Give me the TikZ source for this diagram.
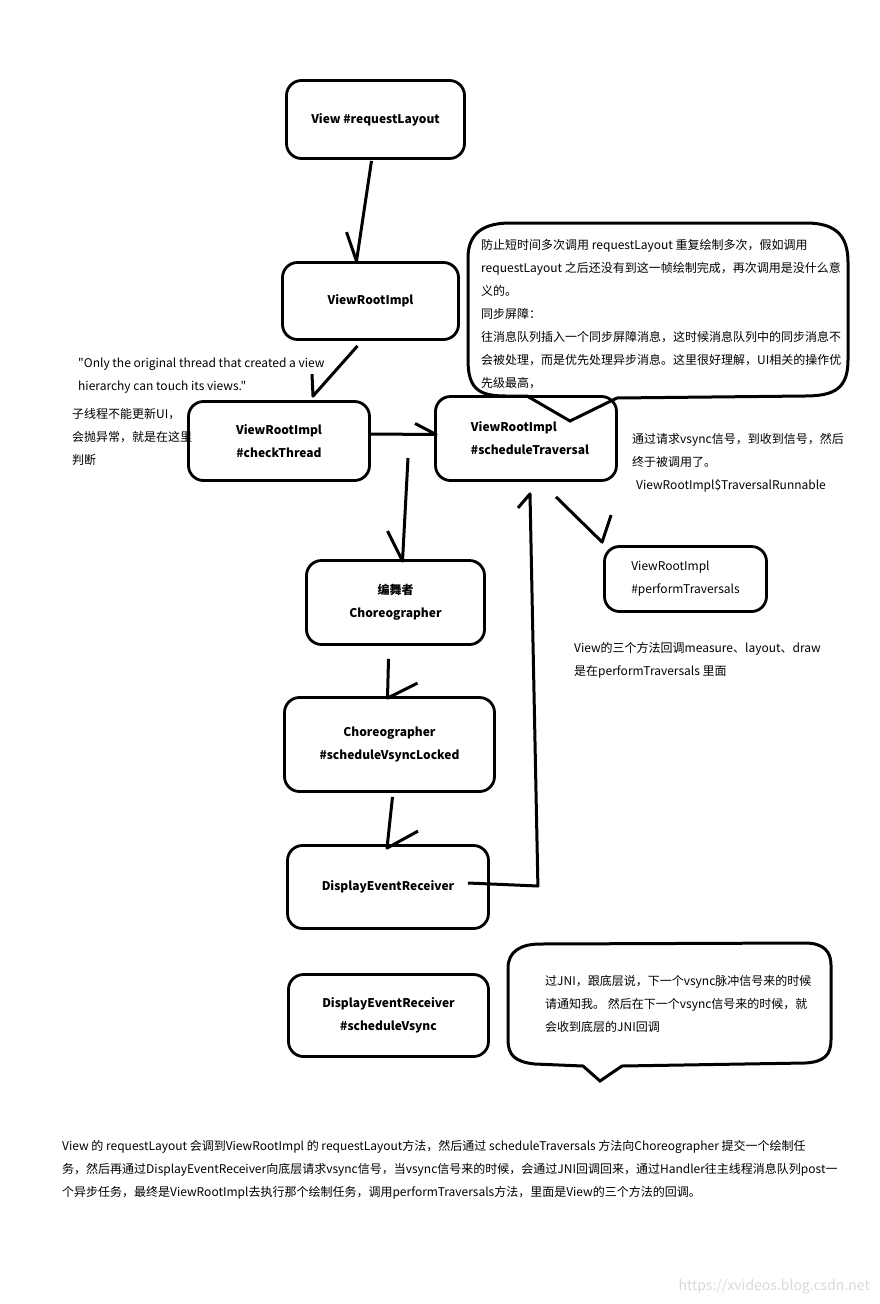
\documentclass[tikz,border=0pt]{standalone}
\usepackage{fontspec}
\setmainfont{Noto Sans CJK SC}
\newfontfamily\rawfont{Noto Sans CJK SC}
\usetikzlibrary{calc}
\begin{document}
\begin{tikzpicture}[x=1pt,y=-1pt,
  box/.style={draw,line width=2.8pt,rounded corners=15pt,align=center,
    font=\bfseries\fontsize{12}{23}\selectfont},
  hand/.style={line width=3pt,line join=round},
  bubble/.style={line width=3pt},
  note/.style={anchor=west,align=left,inner sep=0pt,font=\fontsize{12}{23}\selectfont}]
\fill[white] (0,0) rectangle (880,1304);
\useasboundingbox (0,0) rectangle (880,1304);
\node[box,minimum width=178pt,minimum height=78pt] (reqlayout) at (375.5,119.5) {View \#requestLayout};
\node[box,minimum width=176pt,minimum height=77pt] (vri) at (370.5,301) {ViewRootImpl};
\node[box,minimum width=181pt,minimum height=79pt] (check) at (279,441) {ViewRootImpl\\\#checkThread};
\node[box,minimum width=181pt,minimum height=84pt,align=left] (sched) at (526,438.5) {\hspace*{8pt}ViewRootImpl\\\hspace*{8pt}\#scheduleTraversal};
\node[box,minimum width=178pt,minimum height=84pt] (choreo) at (395.5,602.5) {编舞者\\Choreographer};
\node[box,minimum width=210pt,minimum height=94pt] (vsl) at (389.5,744.5) {Choreographer\\\#scheduleVsyncLocked};
\node[box,minimum width=201pt,minimum height=83pt] (der) at (388,887) {DisplayEventReceiver};
\node[box,minimum width=200pt,minimum height=82pt] (dersched) at (388.5,1015.5) {DisplayEventReceiver\\\#scheduleVsync};
\node[box,minimum width=162pt,minimum height=65pt,align=left,font=\fontsize{12}{23}\selectfont] (perf) at (685.5,579) {ViewRootImpl\\\#performTraversals};
\draw[hand] ($(reqlayout.south)+(-4,1)$) -- ($(vri.north)+(-14,0)$) -- ++(-10,-29);
\draw[hand] ($(vri.south)+(-13,5)$) -- ($(check.north)+(34,-4)$) -- ++(-1,-22);
\draw[hand] ($(check.east)+(0,-7)$) -- ($(sched.west)+(2,-4)$) -- ++(-21,-11);
\coordinate (vsyncreq) at (408,458);
\draw[hand] (vsyncreq) -- ($(choreo.north)+(7,2)$) -- ++(-15,-30);
\draw[hand] ($(choreo.south)+(-7,13)$) -- ($(vsl.north)+(-2,2)$) -- ++(30,-15);
\draw[hand] ($(vsl.south)+(3,4)$) -- ($(der.north)+(-1,4)$) -- ++(31,-17);
\draw[hand] ($(der.east)+(-22,-4)$) -- ++(70,3) -- ($(sched.south)+(4,12)$) -- ++(-12,14);
\draw[hand] ($(sched.south)+(30,15)$) -- ($(perf.north west)+(-1,-3)$) -- ++(9,-27);
\draw[bubble] (527,396) -- (506,396) .. controls (480,396) and (468,390) .. (468,360)
  -- (468,258) .. controls (468,232) and (485,223) .. (510,223) -- (806,223)
  .. controls (835,223) and (848,235) .. (848,262) -- (848,360)
  .. controls (848,388) and (835,396) .. (805,396) -- (617,398) -- (570,421) -- cycle;
\draw[bubble] (583,1066) -- (535,1064) .. controls (515,1062) and (508,1055) .. (508,1040)
  -- (508,968) .. controls (508,952) and (520,944) .. (540,944) -- (805,943)
  .. controls (824,943) and (831,952) .. (831,965) -- (831,1040)
  .. controls (831,1055) and (824,1062) .. (805,1063) -- (622,1066) -- (600,1081) -- cycle;
\node[note] (barrier) at (481,314) {防止短时间多次调用 requestLayout 重复绘制多次，假如调用\\requestLayout 之后还没有到这一帧绘制完成，再次调用是没什么意\\义的。\\同步屏障：\\往消息队列插入一个同步屏障消息，这时候消息队列中的同步消息不\\会被处理，而是优先处理异步消息。这里很好理解，UI相关的操作优\\先级最高，};
\node[note,font=\rawfont\fontsize{12}{23}\selectfont] (quote) at (78,376) {"Only the original thread that created a view\\hierarchy can touch its views."};
\node[note] (subthread) at (72,436.5) {子线程不能更新UI，\\会抛异常，就是在这里\\判断};
\node[note] (vsyncnote) at (632,462.5) {通过请求vsync信号，到收到信号，然后\\终于被调用了。\\\hspace*{4pt}ViewRootImpl\$TraversalRunnable};
\node[note] (threenote) at (574,660.5) {View的三个方法回调measure、layout、draw\\是在performTraversals 里面};
\node[note] (jninote) at (545,1004) {过JNI，跟底层说，下一个vsync脉冲信号来的时候\\请通知我。 然后在下一个vsync信号来的时候，就\\会收到底层的JNI回调};
\node[note] (summary) at (62,1170) {View 的 requestLayout 会调到ViewRootImpl 的 requestLayout方法，然后通过 scheduleTraversals 方法向Choreographer 提交一个绘制任\\务，然后再通过DisplayEventReceiver向底层请求vsync信号，当vsync信号来的时候，会通过JNI回调回来，通过Handler往主线程消息队列post一\\个异步任务，最终是ViewRootImpl去执行那个绘制任务，调用performTraversals方法，里面是View的三个方法的回调。};
\node[anchor=east,inner sep=0pt,text=black!15,font=\fontsize{14}{16}\selectfont] (mark) at (870,1287) {https://xvideos.blog.csdn.net};
\end{tikzpicture}
\end{document}
